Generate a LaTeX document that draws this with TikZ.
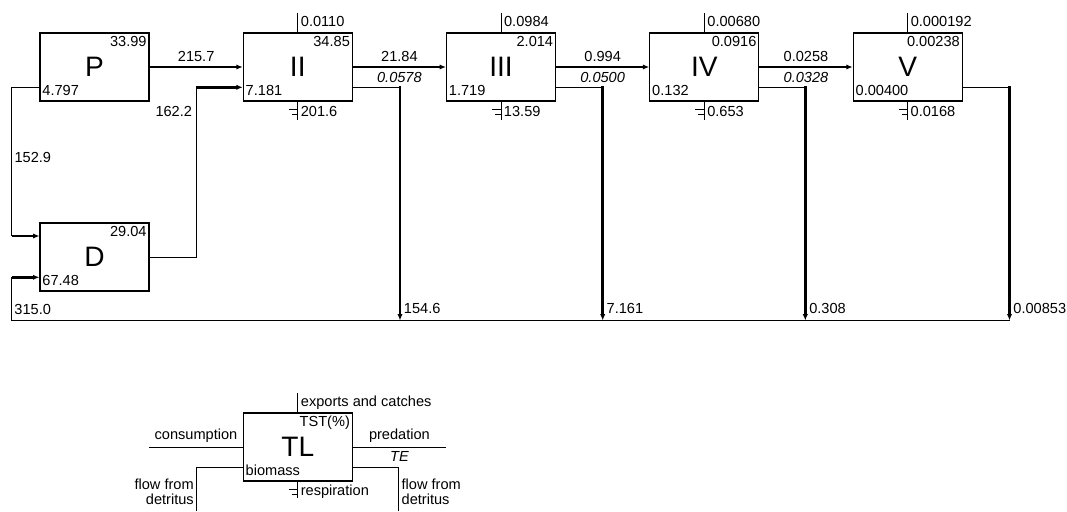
\documentclass[tikz,border=0pt]{standalone}
\usepackage{fontspec}
\setmainfont{Liberation Sans}
\usetikzlibrary{arrows.meta}

\begin{document}
\begin{tikzpicture}[x=0.02cm,y=-0.02cm,>={Latex[length=3.6pt,width=3pt]},
  font=\fontsize{8.3}{8.3}\selectfont,
  box/.style={draw,line width=0.65pt,minimum width=2.18cm,minimum height=1.36cm,inner sep=0pt,font=\fontsize{16}{16}\selectfont},
  link/.style={line width=0.55pt},
  feed/.style={line width=1.5pt,->},
  sink/.style={line width=1.5pt,->,line cap=rect},
  base/.style={line width=1pt},
  corner/.style={inner xsep=1.5pt,inner ysep=2pt},
  eff/.style={font=\fontsize{8.3}{8.3}\selectfont\itshape}]
\useasboundingbox (0,0) rectangle (1067,511);
\node[box] (P) at (94.5,67) {P};
\node[box] (II) at (297.8,67) {II};
\node[box] (III) at (501,67) {III};
\node[box] (IV) at (704.3,67) {IV};
\node[box] (V) at (907.7,67) {V};
\node[box] (D) at (94.5,257) {D};
\node[corner,anchor=north east] (Pt) at (P.north east) {33.99};
\node[corner,anchor=north east] (IIt) at (II.north east) {34.85};
\node[corner,anchor=north east] (IIIt) at (III.north east) {2.014};
\node[corner,anchor=north east] (IVt) at (IV.north east) {0.0916};
\node[corner,anchor=north east] (Vt) at (V.north east) {0.00238};
\node[corner,anchor=north east] (Dt) at (D.north east) {29.04};
\node[corner,anchor=south west,inner ysep=3pt] (Pb) at (P.south west) {4.797};
\node[corner,anchor=south west,inner ysep=3pt] (IIb) at (II.south west) {7.181};
\node[corner,anchor=south west,inner ysep=3pt] (IIIb) at (III.south west) {1.719};
\node[corner,anchor=south west,inner ysep=3pt] (IVb) at (IV.south west) {0.132};
\node[corner,anchor=south west,inner ysep=3pt] (Vb) at (V.south west) {0.00400};
\node[corner,anchor=south west,inner ysep=3pt] (Db) at (D.south west) {67.48};
\coordinate (IIx) at (297.8,13);
\coordinate (IIIx) at (501,13);
\coordinate (IVx) at (704.3,13);
\coordinate (Vx) at (907.7,13);
\draw[link] (II.north) -- (IIx) node[anchor=north west,inner sep=1.5pt] (IIxl) {0.0110};
\draw[link] (III.north) -- (IIIx) node[anchor=north west,inner sep=1.5pt] (IIIxl) {0.0984};
\draw[link] (IV.north) -- (IVx) node[anchor=north west,inner sep=1.5pt] (IVxl) {0.00680};
\draw[link] (V.north) -- (Vx) node[anchor=north west,inner sep=1.5pt] (Vxl) {0.000192};
\coordinate (IIr) at (297.8,120);
\coordinate (IIIr) at (501,120);
\coordinate (IVr) at (704.3,120);
\coordinate (Vr) at (907.7,120);
\draw[link] (II.south) -- (IIr);
\draw[link] ([shift={(-9,8)}]II.south) -- ++(9,0);
\draw[link] ([shift={(-6,13)}]II.south) -- ++(6,0);
\node[anchor=west,inner xsep=1.5pt] (IIrl) at ([shift={(0,10)}]II.south) {201.6};
\draw[link] (III.south) -- (IIIr);
\draw[link] ([shift={(-9,8)}]III.south) -- ++(9,0);
\draw[link] ([shift={(-6,13)}]III.south) -- ++(6,0);
\node[anchor=west,inner xsep=1.5pt] (IIIrl) at ([shift={(0,10)}]III.south) {13.59};
\draw[link] (IV.south) -- (IVr);
\draw[link] ([shift={(-9,8)}]IV.south) -- ++(9,0);
\draw[link] ([shift={(-6,13)}]IV.south) -- ++(6,0);
\node[anchor=west,inner xsep=1.5pt] (IVrl) at ([shift={(0,10)}]IV.south) {0.653};
\draw[link] (V.south) -- (Vr);
\draw[link] ([shift={(-9,8)}]V.south) -- ++(9,0);
\draw[link] ([shift={(-6,13)}]V.south) -- ++(6,0);
\node[anchor=west,inner xsep=1.5pt] (Vrl) at ([shift={(0,10)}]V.south) {0.0168};
\draw[feed] (P) -- (II) node[midway,above,inner sep=2.5pt] (PIIl) {215.7};
\draw[feed] (II) -- (III) node[midway,above,inner sep=2.5pt] (IIIIIl) {21.84} node[midway,below,eff,inner sep=2pt] (IIIIIe) {0.0578};
\draw[feed] (III) -- (IV) node[midway,above,inner sep=2.5pt] (IIIIVl) {0.994} node[midway,below,eff,inner sep=2pt] (IIIIVe) {0.0500};
\draw[feed] (IV) -- (V) node[midway,above,inner sep=2.5pt] (IVVl) {0.0258} node[midway,below,eff,inner sep=2pt] (IVVe) {0.0328};
\coordinate (IIo) at (400,87.3);
\coordinate (IIIo) at (602.7,87.3);
\coordinate (IVo) at (805.3,87.3);
\coordinate (Vo) at (1009.5,87.3);
\coordinate (IIg) at (400,320.5);
\coordinate (IIIg) at (602.7,320.5);
\coordinate (IVg) at (805.3,320.5);
\coordinate (Vg) at (1009.5,320.5);
\coordinate (Dg) at (11.5,320.5);
\draw[base] (Dg) -- (Vg);
\draw[link] (II.east |- IIo) -- (IIo);
\draw[sink] (IIo) -- (IIg) node[anchor=south west,inner xsep=1.5pt,inner ysep=3pt] (IIgl) {154.6};
\draw[link] (III.east |- IIIo) -- (IIIo);
\draw[sink] (IIIo) -- (IIIg) node[anchor=south west,inner xsep=1.5pt,inner ysep=3pt] (IIIgl) {7.161};
\draw[link] (IV.east |- IVo) -- (IVo);
\draw[sink] (IVo) -- (IVg) node[anchor=south west,inner xsep=1.5pt,inner ysep=3pt] (IVgl) {0.308};
\draw[link] (V.east |- Vo) -- (Vo);
\draw[sink] (Vo) -- (Vg) node[anchor=south west,inner xsep=1.5pt,inner ysep=3pt] (Vgl) {0.00853};
\coordinate (Pl) at (11.5,87.3);
\coordinate (Pd) at (11.5,236);
\draw[link] (P.west |- Pl) -- (Pl) -- (Pd) node[pos=0.475,anchor=west,inner sep=1.5pt] (PDl) {152.9};
\draw[feed] (Pd) -- (D.west |- Pd);
\coordinate (Du) at (11.5,277.3);
\draw[link] (Dg) -- (Du);
\draw[feed] (Du) -- (D.west |- Du);
\node[anchor=south west,inner xsep=1.5pt,inner ysep=3pt] (Dgl) at (Dg) {315.0};
\coordinate (Dr) at (196,257);
\coordinate (Dt) at (196,87.3);
\draw[link] (D.east) -- (Dr) -- (Dt) node[pos=0.856,anchor=east,inner sep=2pt] (DIIl) {162.2};
\draw[feed] (Dt) -- (II.west |- Dt);
\node[box] (TL) at (297.8,447) {TL};
\node[corner,anchor=north east] (TLt) at (TL.north east) {TST(\%)};
\node[corner,anchor=south west,inner ysep=3pt] (TLb) at (TL.south west) {biomass};
\coordinate (TLx) at (297.8,393);
\draw[link] (TL.north) -- (TLx) node[anchor=north west,inner sep=1.5pt] (TLxl) {exports and catches};
\coordinate (TLc) at (149.3,447);
\draw[link] (TLc) -- (TL) node[midway,above,inner sep=2pt] (TLcl) {consumption};
\coordinate (TLp) at (446,447);
\draw[link] (TL) -- (TLp) node[midway,above,inner sep=2pt] (TLpl) {predation} node[midway,below,eff,inner sep=2pt] (TLpe) {TE};
\coordinate (TLl) at (196.7,467.3);
\coordinate (TLlb) at (196.7,511);
\draw[link] (TL.west |- TLl) -- (TLl) -- (TLlb);
\node[anchor=north east,align=right,inner sep=1.5pt] (TLll) at ([shift={(0,9)}]TLl) {flow from\\detritus};
\coordinate (TLr) at (398.7,467.3);
\coordinate (TLrb) at (398.7,511);
\draw[link] (TL.east |- TLr) -- (TLr) -- (TLrb);
\node[anchor=north west,align=left,inner sep=1.5pt] (TLrl) at ([shift={(0,9)}]TLr) {flow from\\detritus};
\coordinate (TLs) at (297.8,498);
\draw[link] (TL.south) -- (TLs);
\draw[link] ([shift={(-9,8)}]TL.south) -- ++(9,0);
\draw[link] ([shift={(-6,13)}]TL.south) -- ++(6,0);
\node[anchor=west,inner xsep=1.5pt] (TLsl) at ([shift={(0,10)}]TL.south) {respiration};
\end{tikzpicture}
\end{document}
